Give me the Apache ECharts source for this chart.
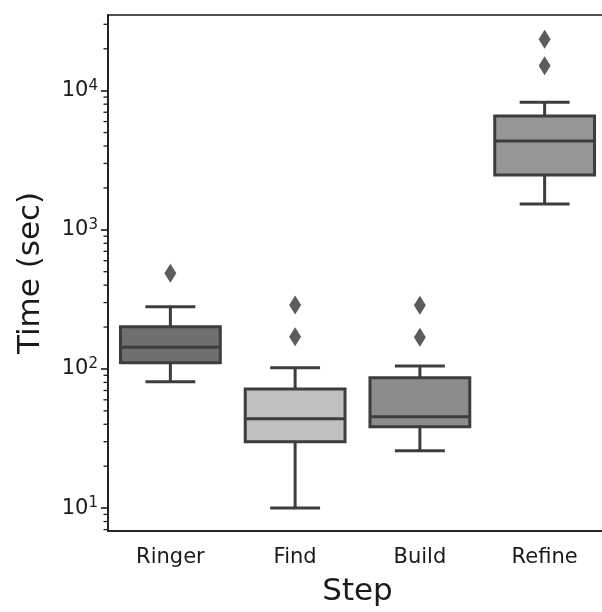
<!DOCTYPE html>
<html>
<head>
<meta charset="utf-8">
<script src="https://cdn.jsdelivr.net/npm/echarts@6/dist/echarts.min.js"></script>
<style>html,body{margin:0;padding:0;background:#fff}#c{width:602px;height:612px}</style>
</head>
<body>
<div id="c"></div>
<script>
// ---- data ----
const categories = ['Ringer', 'Find', 'Build', 'Refine'];
const whiskerLow  = [81, 10, 25.8, 1530];
const q1          = [111, 30.0, 38.4, 2480];
const median      = [143, 43.9, 45.3, 4350];
const q3          = [201, 71.8, 86.5, 6580];
const whiskerHigh = [280, 102, 105, 8260];
const outliers    = [[0, 487], [1, 288], [1, 170], [2, 287], [2, 169], [3, 23400], [3, 15100]];
const boxColors   = ['#6f6f6f', '#c0c0c0', '#8c8c8c', '#969696'];
const yMajorTicks = [10, 100, 1000, 10000];
const yMinorTicks = [7, 8, 9, 20, 30, 40, 50, 60, 70, 80, 90, 200, 300, 400, 500, 600, 700, 800, 900,
                     2000, 3000, 4000, 5000, 6000, 7000, 8000, 9000, 20000, 30000];
const yMin = 6.84, yMax = 35000;

const lineColor = '#3d3d3d';
const boxData = categories.map((c, i) => [i, whiskerLow[i], q1[i], median[i], q3[i], whiskerHigh[i]]);

const chart = echarts.init(document.getElementById('c'), null, {renderer: 'canvas'});
chart.setOption({
  animation: false,
  backgroundColor: '#fff',
  grid: {left: 108, top: 15, width: 499, height: 516, show: true, borderColor: '#1a1a1a', borderWidth: 1.6,
         containLabel: false, outerBoundsMode: 'none'},
  xAxis: {
    type: 'category', data: categories,
    axisLine: {lineStyle: {color: '#1a1a1a', width: 1.6}},
    axisTick: {alignWithLabel: true, length: 7, lineStyle: {color: '#1a1a1a', width: 1.6}},
    axisLabel: {fontFamily: 'DejaVu Sans', fontSize: 21, color: '#1a1a1a', margin: 16},
    name: 'Step', nameLocation: 'middle', nameGap: 45,
    nameTextStyle: {fontFamily: 'DejaVu Sans', fontSize: 31, color: '#1a1a1a'},
    splitLine: {show: false}
  },
  yAxis: {
    type: 'log', logBase: 10, min: yMin, max: yMax,
    axisLine: {show: true, lineStyle: {color: '#1a1a1a', width: 1.6}},
    axisTick: {show: true, length: 7, lineStyle: {color: '#1a1a1a', width: 1.6}, customValues: yMajorTicks},
    axisLabel: {
      fontFamily: 'DejaVu Sans', fontSize: 21, color: '#1a1a1a', margin: 10,
      customValues: yMajorTicks,
      formatter: function (v) {
        const e = Math.round(Math.log10(v));
        return '10{s|' + e + '}';
      },
      rich: {s: {fontFamily: 'DejaVu Sans', fontSize: 15, color: '#1a1a1a', verticalAlign: 'top', padding: [0, 0, 10, 0]}}
    },
    splitLine: {show: false},
    name: 'Time (sec)', nameLocation: 'middle', nameGap: 62,
    nameTextStyle: {fontFamily: 'DejaVu Sans', fontSize: 31, color: '#1a1a1a'}
  },
  series: [
    {
      type: 'custom',
      data: boxData,
      encode: {x: 0, y: [1, 2, 3, 4, 5]},
      z: 2,
      renderItem: function (params, api) {
        const i = api.value(0);
        const band = api.size([1, 0])[0];
        const bw = band * 0.8, cw = bw / 2;
        const pLow = api.coord([i, api.value(1)]);
        const pQ1 = api.coord([i, api.value(2)]);
        const pMed = api.coord([i, api.value(3)]);
        const pQ3 = api.coord([i, api.value(4)]);
        const pHigh = api.coord([i, api.value(5)]);
        const cx = pMed[0];
        const ls = {stroke: lineColor, lineWidth: 3};
        return {
          type: 'group',
          children: [
            {type: 'line', shape: {x1: cx, y1: pQ1[1], x2: cx, y2: pLow[1]}, style: ls},
            {type: 'line', shape: {x1: cx, y1: pQ3[1], x2: cx, y2: pHigh[1]}, style: ls},
            {type: 'line', shape: {x1: cx - cw / 2, y1: pLow[1], x2: cx + cw / 2, y2: pLow[1]}, style: ls},
            {type: 'line', shape: {x1: cx - cw / 2, y1: pHigh[1], x2: cx + cw / 2, y2: pHigh[1]}, style: ls},
            {type: 'rect', shape: {x: cx - bw / 2, y: pQ3[1], width: bw, height: pQ1[1] - pQ3[1]},
             style: {fill: boxColors[i], stroke: lineColor, lineWidth: 3}},
            {type: 'line', shape: {x1: cx - bw / 2, y1: pMed[1], x2: cx + bw / 2, y2: pMed[1]}, style: ls}
          ]
        };
      }
    },
    {
      type: 'scatter',
      data: outliers,
      symbol: 'diamond',
      symbolSize: [12, 19],
      itemStyle: {color: '#333333'},
      z: 3
    },
    {
      type: 'custom',
      data: yMinorTicks.map(v => [0, v]),
      encode: {x: 0, y: 1},
      clip: false,
      silent: true,
      renderItem: function (params, api) {
        const p = api.coord([0, api.value(1)]);
        const x0 = params.coordSys.x;
        return {type: 'line', shape: {x1: x0 - 4.5, y1: p[1], x2: x0, y2: p[1]},
                style: {stroke: '#1a1a1a', lineWidth: 1.3}};
      }
    }
  ]
});
</script>
</body>
</html>
